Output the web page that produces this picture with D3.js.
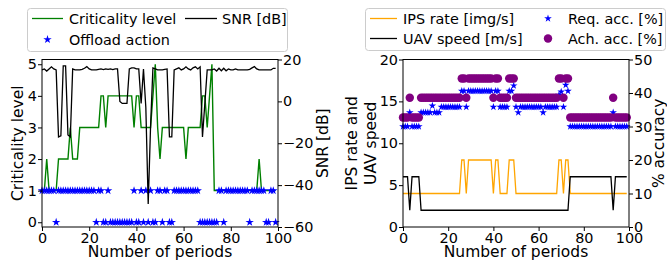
<!DOCTYPE html>
<html>
<head>
<meta charset="utf-8">
<script src="https://cdn.jsdelivr.net/npm/d3@7"></script>
<style>
  body { margin: 0; background: #fff; }
  svg { font-family: "DejaVu Sans", sans-serif; }
  .axis line { stroke: #000; stroke-width: 1; }
  .axis text { font-family: "DejaVu Sans", sans-serif; font-size: 14.4px; fill: #000; }
  .lbl { font-size: 15.5px; fill: #000; }
  .leg { font-size: 14.4px; fill: #000; }
</style>
</head>
<body>
<svg id="chart" width="667" height="263"></svg>
<script>
// ---- data ----
const periods = d3.range(0, 100);

const criticality = [
  1,1,2,1,1,1,1,2,2,2,
  2,2,3,2,2,2,3,3,3,3,
  3,3,3,3,3,4,4,3,4,4,
  4,4,4,4,4,4,4,4,4,3,
  4,4,3,3,3,3,3,4,5,3,
  2,3,3,3,3,3,3,3,3,3,
  3,2,3,3,3,3,3,3,4,4,
  3,4,5,1,1,1,1,1,1,1,
  1,1,1,1,1,1,1,1,1,1,
  1,1,2,1,1,1,1,1,1,1
];

const snr = [
  15,15.5,14.5,15.5,16.5,15.5,15,-17,-16.5,17,
  17,-16,-17,15.5,15,15,15,15.3,15.8,16.6,
  15.5,15,15,15,15.3,15.5,15.2,15.5,15.3,15.5,
  15.2,15.5,15.5,0,-1,-1,-1,15.5,16,16,
  15.5,15.5,-1,15.5,-3,-49,-12,16,15.5,15,
  15,15,15.3,15.5,-17,-17,15,15.5,16,15,
  15.5,16.5,15.5,15,16,16.5,15.5,16.5,-17,-1,
  15,15,15,15.5,14.5,15.8,14.6,15.8,14.6,15.5,
  15,15,15.5,15,15,15,15,15,15.3,16,
  16.6,15.5,15,15,15,15,15,15,15.8,15.8
];

const offload = [
  1,1,1,1,1,1,0,1,1,1,
  1,1,1,1,1,1,1,1,1,1,
  1,1,1,0,1,1,0,0,1,0,
  0,0,0,0,0,0,0,0,0,1,
  0,0,1,0,1,0,1,0,0,1,
  1,0,1,1,0,0,1,1,1,1,
  1,1,1,1,1,1,1,0,0,0,
  0,0,0,0,0,1,1,0,1,1,
  1,1,1,1,1,1,1,1,0,1,
  1,1,1,1,1,0,0,1,1,0
];

const ipsRate = [
  4,4,4,4,4,4,4,4,4,4,
  4,4,4,4,4,4,4,4,4,4,
  4,4,4,4,4,4,8,8,4,8,
  8,8,8,8,8,8,8,8,8,8,
  4,8,8,4,4,4,4,8,8,8,
  4,4,4,4,4,4,4,4,4,4,
  4,4,4,4,4,4,4,4,4,8,
  8,4,8,8,4,4,4,4,4,4,
  4,4,4,4,4,4,4,4,4,4,
  4,4,4,4,4,4,4,4,4,4
];

const uavSpeed = [
  6,6,6,2,6,6,6,6,2,2,
  2,2,2,2,2,2,2,2,2,2,
  2,2,2,2,2,2,2,2,2,2,
  2,2,2,2,2,2,2,2,2,2,
  2,2,2,2,2,2,2,2,2,2,
  2,2,2,2,2,2,2,2,2,2,
  2,2,2,2,2,2,2,2,2,2,
  2,2,2,2,6,6,6,6,6,6,
  6,6,6,6,6,6,6,6,6,6,
  6,6,6,2,6,6,6,6,6,6
];

const reqAcc = [
  30,30,30,34.2,30,30,30,30,34.2,34.2,
  34.2,34.2,34.2,36.2,34.2,34.2,34.2,35.8,35.8,35.8,
  35.8,35.8,35.8,35.8,35.8,35.8,40.6,40.6,35.8,40.6,
  40.6,40.6,40.6,40.6,40.6,40.6,40.6,40.6,40.6,40.6,
  35.8,40.6,40.6,35.8,35.8,35.8,35.8,40.6,40.6,42.2,
  35.8,34.2,35.8,35.8,35.8,35.8,35.8,35.8,35.8,35.8,
  35.8,35.8,34.2,35.8,35.8,35.8,35.8,35.8,35.8,39.4,
  40.4,35.8,42.4,40.6,30,30,30,30,30,30,
  30,30,30,30,30,30,30,30,30,30,
  30,30,30,34.2,30,30,30,30,30,30
];

const achAcc = [
  32.7,32.7,32.7,38.6,32.7,32.7,32.7,32.7,38.6,38.6,
  38.6,38.6,38.6,38.6,38.6,38.6,38.6,38.6,38.6,38.6,
  38.6,38.6,38.6,38.6,38.6,38.6,44.3,44.3,38.6,44.3,
  44.3,44.3,44.3,44.3,44.3,44.3,44.3,44.3,44.3,44.3,
  38.6,44.3,44.3,38.6,38.6,38.6,38.6,44.3,44.3,44.3,
  38.6,38.6,38.6,38.6,38.6,38.6,38.6,38.6,38.6,38.6,
  38.6,38.6,38.6,38.6,38.6,38.6,38.6,38.6,38.6,44.3,
  44.3,38.6,44.3,44.3,32.7,32.7,32.7,32.7,32.7,32.7,
  32.7,32.7,32.7,32.7,32.7,32.7,32.7,32.7,32.7,32.7,
  32.7,32.7,32.7,38.6,32.7,32.7,32.7,32.7,32.7,32.7
];

const periodTicks = [0, 20, 40, 60, 80, 100];
const critTicks = [0, 1, 2, 3, 4, 5];
const snrTicks = [-60, -40, -20, 0, 20];
const rateTicks = [0, 5, 10, 15, 20];
const accTicks = [0, 10, 20, 30, 40, 50];

// ---- drawing ----
const svg = d3.select('#chart');
const C = { green: '#008000', black: '#000000', blue: '#0000ff', orange: '#ffa500', purple: '#800080' };
const fmt = d3.format('d');

function frame(box) {
  svg.append('rect')
    .attr('x', box.l).attr('y', box.t)
    .attr('width', box.r - box.l).attr('height', box.b - box.t)
    .attr('fill', 'none').attr('stroke', '#000').attr('stroke-width', 1);
}
function axis(gen, tx, ty) {
  svg.append('g').attr('class', 'axis').attr('transform', `translate(${tx},${ty})`)
    .call(gen.tickFormat(fmt)).call(g => g.select('.domain').remove());
}
const star = size => d3.symbol().type(d3.symbolStar).size(size)();
const circ = size => d3.symbol().type(d3.symbolCircle).size(size)();

// left panel
const L = { l: 42, r: 278, t: 59.5, b: 227 };
const xL = d3.scaleLinear().domain([0, 100]).range([L.l, L.r]);
const yCrit = d3.scaleLinear().domain([-0.15, 5.15]).range([L.b, L.t]);
const ySnr = d3.scaleLinear().domain([-60, 20]).range([L.b, L.t]);

svg.append('path').datum(criticality)
  .attr('d', d3.line().x((d, i) => xL(periods[i])).y(d => yCrit(d)))
  .attr('fill', 'none').attr('stroke', C.green).attr('stroke-width', 1.4);
svg.selectAll('path.off').data(offload).enter().append('path')
  .attr('class', 'off')
  .attr('d', star(22))
  .attr('transform', (d, i) => `translate(${xL(periods[i])},${yCrit(d)})`)
  .attr('fill', C.blue);
svg.append('path').datum(snr)
  .attr('d', d3.line().x((d, i) => xL(periods[i])).y(d => ySnr(d)))
  .attr('fill', 'none').attr('stroke', C.black).attr('stroke-width', 1.3);

frame(L);
axis(d3.axisBottom(xL).tickValues(periodTicks).tickSize(4).tickPadding(2), 0, L.b);
axis(d3.axisLeft(yCrit).tickValues(critTicks).tickSize(4).tickPadding(1), L.l, 0);
axis(d3.axisRight(ySnr).tickValues(snrTicks).tickSize(4).tickPadding(1), L.r, 0);

svg.append('text').attr('class', 'lbl').attr('x', (L.l + L.r) / 2).attr('y', 257)
  .attr('text-anchor', 'middle').text('Number of periods');
svg.append('text').attr('class', 'lbl').attr('transform', `translate(22.5,${(L.t + L.b) / 2}) rotate(-90)`)
  .attr('text-anchor', 'middle').text('Criticality level');
svg.append('text').attr('class', 'lbl').attr('transform', `translate(328,${(L.t + L.b) / 2}) rotate(-90)`)
  .attr('text-anchor', 'middle').text('SNR [dB]');

// right panel
const R = { l: 403, r: 629, t: 59.5, b: 227 };
const xR = d3.scaleLinear().domain([0, 100]).range([R.l, R.r]);
const yRate = d3.scaleLinear().domain([0, 20]).range([R.b, R.t]);
const yAcc = d3.scaleLinear().domain([0, 50]).range([R.b, R.t]);

svg.append('path').datum(ipsRate)
  .attr('d', d3.line().x((d, i) => xR(periods[i])).y(d => yRate(d)))
  .attr('fill', 'none').attr('stroke', C.orange).attr('stroke-width', 1.3);
svg.append('path').datum(uavSpeed)
  .attr('d', d3.line().x((d, i) => xR(periods[i])).y(d => yRate(d)))
  .attr('fill', 'none').attr('stroke', C.black).attr('stroke-width', 1.3);
svg.selectAll('path.req').data(reqAcc).enter().append('path')
  .attr('class', 'req')
  .attr('d', star(18))
  .attr('transform', (d, i) => `translate(${xR(periods[i])},${yAcc(d)})`)
  .attr('fill', C.blue);
svg.selectAll('path.ach').data(achAcc).enter().append('path')
  .attr('class', 'ach')
  .attr('d', circ(56))
  .attr('transform', (d, i) => `translate(${xR(periods[i])},${yAcc(d)})`)
  .attr('fill', C.purple);

frame(R);
axis(d3.axisBottom(xR).tickValues(periodTicks).tickSize(4).tickPadding(2), 0, R.b);
axis(d3.axisLeft(yRate).tickValues(rateTicks).tickSize(4).tickPadding(1), R.l, 0);
axis(d3.axisRight(yAcc).tickValues(accTicks).tickSize(4).tickPadding(1), R.r, 0);

svg.append('text').attr('class', 'lbl').attr('x', (R.l + R.r) / 2).attr('y', 257)
  .attr('text-anchor', 'middle').text('Number of periods');
svg.append('text').attr('class', 'lbl').attr('transform', `translate(357,${(R.t + R.b) / 2}) rotate(-90)`)
  .attr('text-anchor', 'middle').text('IPS rate and');
svg.append('text').attr('class', 'lbl').attr('transform', `translate(376,${(R.t + R.b) / 2}) rotate(-90)`)
  .attr('text-anchor', 'middle').text('UAV speed');
svg.append('text').attr('class', 'lbl').attr('transform', `translate(664,${(R.t + R.b) / 2}) rotate(-90)`)
  .attr('text-anchor', 'middle').text('% accuracy');

// legends
function legendBox(x, y, w, h) {
  svg.append('rect').attr('x', x).attr('y', y).attr('width', w).attr('height', h)
    .attr('rx', 3).attr('fill', '#fff').attr('fill-opacity', 0.8)
    .attr('stroke', '#cccccc').attr('stroke-width', 1);
}
function legLine(x0, x1, y, color, label, tx) {
  svg.append('line').attr('x1', x0).attr('x2', x1).attr('y1', y).attr('y2', y)
    .attr('stroke', color).attr('stroke-width', 1.3);
  svg.append('text').attr('class', 'leg').attr('x', tx).attr('y', y).attr('dy', '0.36em').text(label);
}
function legMark(x, y, d, color, label, tx) {
  svg.append('path').attr('d', d).attr('transform', `translate(${x},${y})`).attr('fill', color);
  svg.append('text').attr('class', 'leg').attr('x', tx).attr('y', y).attr('dy', '0.36em').text(label);
}

legendBox(27.5, 8.5, 260, 43);
legLine(32, 63, 18.5, C.green, 'Criticality level', 69);
legLine(185, 217, 18.5, C.black, 'SNR [dB]', 222);
legMark(47.5, 39.5, star(22), C.blue, 'Offload action', 69);

legendBox(365.5, 8.5, 300, 42);
legLine(370, 397, 18.5, C.orange, 'IPS rate [img/s]', 403);
legLine(370, 397, 38.5, C.black, 'UAV speed [m/s]', 403);
legMark(548, 18.5, star(18), C.blue, 'Req. acc. [%]', 568);
legMark(548, 38.5, circ(56), C.purple, 'Ach. acc. [%]', 568);
</script>
</body>
</html>
